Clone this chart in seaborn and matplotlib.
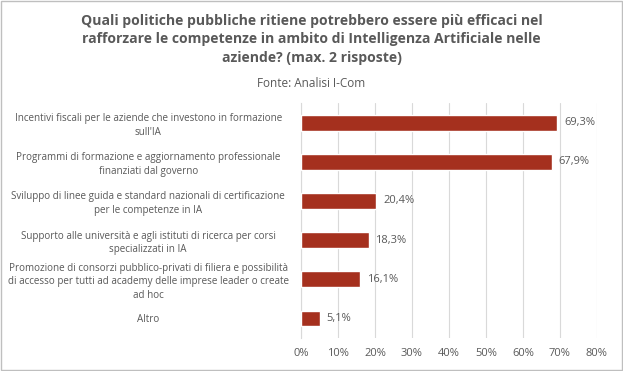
import matplotlib
matplotlib.use("Agg")
import matplotlib.pyplot as plt
import seaborn as sns
import pandas as pd
from matplotlib.ticker import FuncFormatter

# Data
categories = [
    "Incentivi fiscali per le aziende che investono in formazione\nsull'IA",
    "Programmi di formazione e aggiornamento professionale\nfinanziati dal governo",
    "Sviluppo di linee guida e standard nazionali di certificazione\nper le competenze in IA",
    "Supporto alle università e agli istituti di ricerca per corsi\nspecializzati in IA",
    "Promozione di consorzi pubblico-privati di filiera e possibilità\ndi accesso per tutti ad academy delle imprese leader o create\nad hoc",
    "Altro",
]
values = [69.3, 67.9, 20.4, 18.3, 16.1, 5.1]
value_labels = ["69,3%", "67,9%", "20,4%", "18,3%", "16,1%", "5,1%"]
x_ticks = [0, 10, 20, 30, 40, 50, 60, 70, 80]

df = pd.DataFrame({"categoria": categories, "valore": values})

sns.set_style("white")
plt.rcParams["font.family"] = ["Open Sans", "DejaVu Sans"]

fig = plt.figure(figsize=(6.23, 3.71), dpi=100)
ax = fig.add_axes([0.483, 0.089, 0.475, 0.633])

sns.barplot(data=df, y="categoria", x="valore", color="#A5301E",
            width=0.4, saturation=1, ax=ax, zorder=3)

ax.set_xlim(0, 80)
ax.set_xticks(x_ticks)
ax.xaxis.set_major_formatter(FuncFormatter(lambda v, p: f"{v:.0f}%"))
ax.grid(axis="x", color="#d9d9d9", linewidth=0.8, zorder=0)
for s in ["top", "right", "bottom"]:
    ax.spines[s].set_visible(False)
ax.spines["left"].set_color("#d9d9d9")
ax.set_xlabel("")
ax.set_ylabel("")
ax.tick_params(axis="both", length=0, colors="#595959")
ax.tick_params(axis="x", labelsize=8, pad=7)
ax.tick_params(axis="y", labelsize=7.1, pad=110)
for t in ax.get_yticklabels():
    t.set_horizontalalignment("center")
    t.set_multialignment("center")
    t.set_linespacing(1.3)

for i, (v, lab) in enumerate(zip(values, value_labels)):
    ax.text(v + 1.8, i, lab, va="center", ha="left", fontsize=8, color="#595959")

fig.text(0.5, 0.962,
         "Quali politiche pubbliche ritiene potrebbero essere più efficaci nel\n"
         "rafforzare le competenze in ambito di Intelligenza Artificiale nelle\n"
         "aziende? (max. 2 risposte)",
         ha="center", va="top", fontsize=10.1, fontweight="bold", color="#595959",
         linespacing=1.4)
fig.text(0.5, 0.793, "Fonte: Analisi I-Com", ha="center", va="top",
         fontsize=8.5, color="#595959")

# light frame around the picture
fig.patches.append(plt.Rectangle((0.002, 0.003), 0.996, 0.994, transform=fig.transFigure,
                                 fill=False, edgecolor="#bfbfbf", linewidth=1))

fig.savefig("out.png", dpi=100)
